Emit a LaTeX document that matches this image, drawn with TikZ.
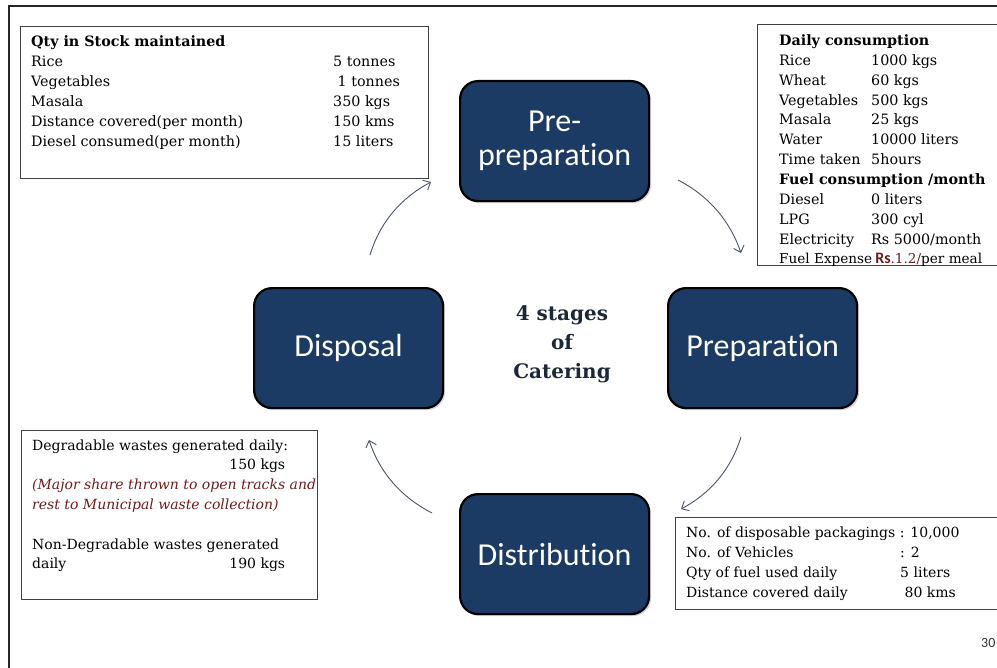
\documentclass[tikz,border=0pt]{standalone}
\usepackage{fontspec}
\setmainfont{DejaVu Serif}
\newfontfamily\labelfont[Ligatures=CommonOff]{Carlito}
\usetikzlibrary{shadows,arrows.meta}
\definecolor{stagefill}{HTML}{1B3A64}
\definecolor{notered}{HTML}{6E1C1C}
\definecolor{arrowgray}{HTML}{4A5566}
\definecolor{titleink}{HTML}{1C2838}
\definecolor{boxline}{HTML}{404040}
\newcommand{\cola}[1]{\makebox[92bp][l]{#1}}
\newcommand{\colb}[1]{\makebox[214bp][l]{#1}}
\newcommand{\colc}[1]{\makebox[302bp][l]{#1}}

\tikzset{
  stage/.style={draw=black, line width=2.2bp, fill=stagefill, rounded corners=18bp,
    minimum width=189bp, minimum height=120bp, anchor=north west, inner sep=0pt,
    drop shadow={shadow xshift=2bp, shadow yshift=-2bp, opacity=0.35}},
  stagetext/.style={text=white, align=center, inner sep=0pt,
    font=\labelfont\fontsize{32bp}{34bp}\selectfont},
  infobox/.style={draw=boxline, line width=1.2bp, fill=white, anchor=north west, inner sep=0pt},
  infotext/.style={anchor=north west, inner sep=0pt, align=left},
  flow/.style={draw=arrowgray, line width=0.9bp, -{Straight Barb[length=6bp,width=11bp]}},
}

\begin{document}
\begin{tikzpicture}[x=1bp,y=-1bp]
\useasboundingbox (0,0) rectangle (997,668);
\clip (0,0) rectangle (997,668);

% outer slide frame
\draw[line width=2bp, draw=black!85] (9,6) rectangle (1020,700);

% ---- information boxes ----
\node[infobox, minimum width=408bp, minimum height=152bp] (stockbox) at (20,26) {};
\node[infotext, font=\fontsize{14.3bp}{20bp}\selectfont] (stocktxt) at (31,32.5) {%
\strut\textbf{Qty in Stock maintained}\\
\colc{Rice}5 tonnes\\
\colc{Vegetables}\ 1 tonnes\\
\colc{Masala}350 kgs\\
\colc{Distance covered(per month)}150 kms\\
\colc{Diesel consumed(per month)}15 liters};

\node[infobox, minimum width=250bp, minimum height=241bp] (dailybox) at (757,24) {};
\node[infotext, font=\fontsize{14.3bp}{19.85bp}\selectfont] (dailytxt) at (779,31.5) {%
\strut\textbf{Daily consumption}\\
\cola{Rice}1000 kgs\\
\cola{Wheat}60 kgs\\
\cola{Vegetables}500 kgs\\
\cola{Masala}25 kgs\\
\cola{Water}10000 liters\\
\cola{Time taken}5hours\\
\textbf{Fuel consumption /month}\\
\cola{Diesel}0 liters\\
\cola{LPG}300 cyl\\
\cola{Electricity}Rs 5000/month\\
{\fontsize{13.6bp}{19.85bp}\selectfont Fuel Expense\kern3bp{\color{notered}\textbf{\labelfont\fontsize{16bp}{19bp}\selectfont Rs}.1.2/}per meal}};

\node[infobox, minimum width=296bp, minimum height=169bp] (wastebox) at (21,430) {};
\node[infotext, font=\fontsize{14bp}{19.8bp}\selectfont] (wastetxt) at (32,436) {%
\strut Degradable wastes generated daily:\\
\makebox[253bp][r]{150 kgs}\\
{\color{notered}\itshape (Major share thrown to open tracks and}\\
{\color{notered}\itshape rest to Municipal waste collection)}\\[19.8bp]
Non-Degradable wastes generated\\
\makebox[253bp][l]{daily\hfill 190 kgs}};

\node[infobox, minimum width=340bp, minimum height=92bp] (fleetbox) at (675,517) {};
\node[infotext, font=\fontsize{14bp}{20bp}\selectfont] (fleettxt) at (686,523) {%
\strut No. of disposable packagings : 10,000\\
\colb{No. of Vehicles}: 2\\
\colb{Qty of fuel used daily}5 liters\\
\colb{Distance covered daily}\ 80 kms};

% ---- the four stages ----
\node[stage] (prep0) at (459,80) {};
\node[stagetext] (prep0lbl) at (prep0.center) {Pre-\\preparation};
\node[stage] (prep) at (667,287) {};
\node[stagetext] (preplbl) at (prep.center) {Preparation};
\node[stage] (dist) at (459,493) {};
\node[stagetext] (distlbl) at (dist.center) {Distribution};
\node[stage] (disp) at (253,287) {};
\node[stagetext] (displbl) at (disp.center) {Disposal};

% title in the middle
\node[text=titleink, align=center, inner sep=0pt,
  font=\bfseries\fontsize{20bp}{29bp}\selectfont] (title) at (562,344) {4 stages\\of\\Catering};

% slide number
\node[anchor=west, inner sep=0pt, text=black!80, font=\labelfont\fontsize{14bp}{16bp}\selectfont] (pageno) at (981,643) {30};

% ---- cycle arrows ----
\coordinate (a1s) at (370,255); \coordinate (a1e) at (431,182);
\coordinate (a2s) at (678,180); \coordinate (a2e) at (741,253);
\coordinate (a3s) at (741,437); \coordinate (a3e) at (681,509);
\coordinate (a4s) at (432,513); \coordinate (a4e) at (369,440);
\draw[flow] (a1s) .. controls (380,222) and (401,198) .. (a1e);
\draw[flow] (a2s) .. controls (709,196) and (730,221) .. (a2e);
\draw[flow] (a3s) .. controls (731,469) and (711,493) .. (a3e);
\draw[flow] (a4s) .. controls (401,497) and (380,473) .. (a4e);
\end{tikzpicture}
\end{document}
